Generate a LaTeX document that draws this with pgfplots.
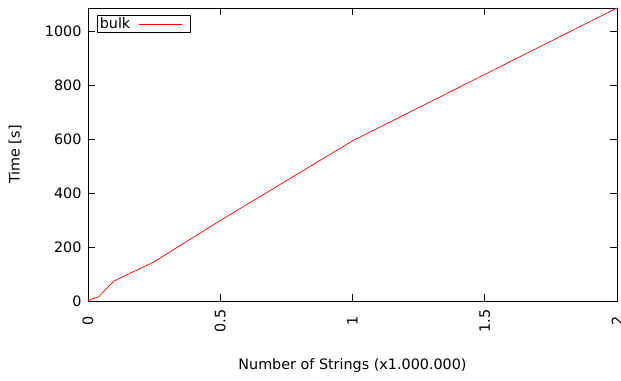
\documentclass[border=0pt]{standalone}
\usepackage{pgfplots}
\pgfplotsset{compat=1.18}
\usepackage{fontspec}
\setmainfont{DejaVu Sans}
\begin{document}
\begin{tikzpicture}
\begin{axis}[
  scale only axis,
  width=529bp, height=293bp,
  xmin=0, xmax=2, ymin=0, ymax=1085,
  xtick={0,0.5,1,1.5,2},
  xticklabels={0,0.5,1,1.5,2},
  ytick={0,200,400,600,800,1000},
  yticklabels={0,200,400,600,800,1000},
  tick align=inside,
  major tick length=7bp,
  axis line style={line width=0.8bp},
  every tick/.style={black, line width=0.6bp},
  /pgf/number format/assume math mode=true,
  tick label style={font=\fontsize{14.4}{16}\selectfont},
  label style={font=\fontsize{14.4}{16}\selectfont},
  xticklabel style={rotate=90, anchor=center},
  xticklabel shift=20bp,
  yticklabel style={xshift=-3bp},
  xlabel={Number of Strings (x1.000.000)},
  ylabel={Time [s]},
  xlabel style={at={(axis description cs:0.5,-0.22)}, anchor=center},
  ylabel style={at={(axis description cs:-0.138,0.5)}, anchor=center},
  legend style={at={(rel axis cs:0,1)}, anchor=north west, xshift=9bp, yshift=-7bp,
    draw=black, line width=0.6bp, inner sep=0.5bp, font=\fontsize{14.4}{16}\selectfont,
    nodes={inner sep=2bp}},
  legend plot pos=right,
  legend image code/.code={\path[draw=none] (0bp,0bp) -- (58bp,0bp); \draw[#1, draw=red, line width=0.7bp] (7bp,0bp) -- (50bp,0bp);},
  clip=false,
]
\addplot[red, line width=0.7bp] coordinates {
  (0,0) (0.01,6) (0.04,16) (0.1,75) (0.25,145) (0.5,298) (1,593) (2,1085)
};
\addlegendentry{bulk}
\end{axis}
\pgfresetboundingbox
\path ([shift={(-88bp,-80bp)}]current axis.south west) rectangle ([shift={(4bp,8bp)}]current axis.north east);
\end{tikzpicture}
\end{document}
